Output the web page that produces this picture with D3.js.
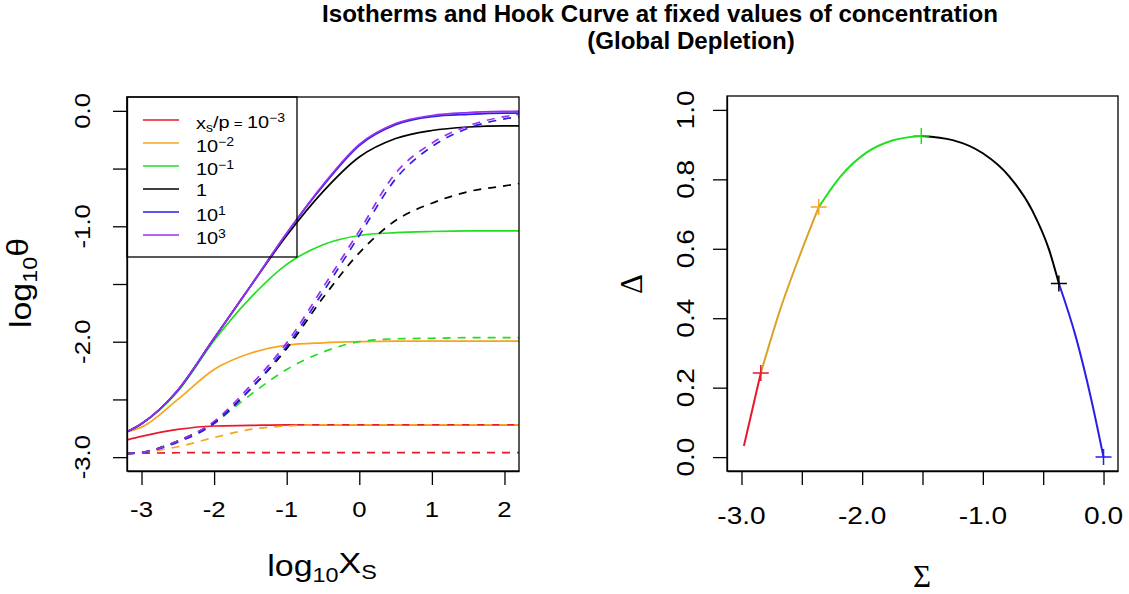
<!DOCTYPE html>
<html>
<head>
<meta charset="utf-8">
<script src="https://cdn.jsdelivr.net/npm/d3@7"></script>
<style>
  body { margin: 0; background: #fff; }
  svg { display: block; }
  text { font-family: "Liberation Sans", Arial, sans-serif; fill: #000; }
</style>
</head>
<body>
<svg width="1129" height="594"></svg>
<script>
// ---- data ----
var logX = [-3.2, -3, -2.5, -2, -1.5, -1, -0.5, 0, 0.5, 1, 1.5, 2, 2.2];

var solidRed    = [-2.85, -2.82, -2.76, -2.73, -2.725, -2.72, -2.72, -2.72, -2.72, -2.72, -2.72, -2.72, -2.72];
var solidOrange = [-2.78, -2.74, -2.50, -2.24, -2.10, -2.03, -2.01, -2.0, -1.995, -1.995, -1.995, -1.995, -1.995];
var solidGreen  = [-2.78, -2.71, -2.43, -1.99, -1.62, -1.33, -1.16, -1.08, -1.055, -1.045, -1.04, -1.04, -1.04];
var solidBlack  = [-2.78, -2.71, -2.42, -1.97, -1.52, -1.08, -0.70, -0.40, -0.24, -0.17, -0.14, -0.13, -0.13];
var solidBlue   = [-2.78, -2.71, -2.42, -1.97, -1.52, -1.06, -0.65, -0.30, -0.12, -0.05, -0.03, -0.02, -0.02];
var solidPurple = [-2.78, -2.71, -2.42, -1.97, -1.52, -1.06, -0.64, -0.29, -0.11, -0.04, -0.015, -0.005, -0.003];

var dashRed    = [-2.965, -2.965, -2.962, -2.96, -2.96, -2.96, -2.96, -2.96, -2.96, -2.96, -2.96, -2.96, -2.96];
var dashOrange = [-2.97, -2.96, -2.91, -2.83, -2.76, -2.73, -2.72, -2.72, -2.72, -2.72, -2.72, -2.72, -2.72];
var dashGreen  = [-2.97, -2.96, -2.86, -2.70, -2.46, -2.24, -2.09, -2.0, -1.975, -1.97, -1.965, -1.965, -1.965];
var dashBlack  = [-2.97, -2.96, -2.86, -2.70, -2.41, -2.06, -1.62, -1.23, -0.95, -0.80, -0.70, -0.65, -0.63];
var dashBlue   = [-2.97, -2.96, -2.87, -2.71, -2.41, -2.04, -1.57, -1.08, -0.59, -0.31, -0.15, -0.07, -0.05];
var dashPurple = [-2.97, -2.96, -2.86, -2.69, -2.38, -2.01, -1.53, -1.04, -0.54, -0.28, -0.13, -0.05, -0.03];

var concExp   = ["-3", "-2", "-1", "", "1", "3"];
var concColor = ["#e8192c", "#f7a41e", "#1fe01f", "#000000", "#2a1fe6", "#9b2ff0"];
var solidSeries = [solidRed, solidOrange, solidGreen, solidBlack, solidBlue, solidPurple];
var dashSeries  = [dashRed, dashOrange, dashGreen, dashBlack, dashBlue, dashPurple];

var leftXTicks = [-3, -2, -1, 0, 1, 2];
var leftYTicks = [-3, -2.5, -2, -1.5, -1, -0.5, 0];
var leftYLabels = [-3, -2, -1, 0];

// hook curve
var hookSigma = [-2.98, -2.84, -2.68, -2.51, -2.36, -2.18, -1.965, -1.75, -1.51, -1.25, -1.0, -0.78, -0.59, -0.45, -0.37, -0.23, -0.10, 0.0];
var hookDelta = [0.032, 0.242, 0.424, 0.587, 0.72, 0.808, 0.877, 0.912, 0.925, 0.913, 0.875, 0.808, 0.71, 0.596, 0.50, 0.347, 0.164, 0.0];
var hookBreaks = [0, 1, 4, 8, 14, 17];
var hookColor  = ["#e8192c", "#d9a22a", "#1fe01f", "#000000", "#2a1fe6"];
var crossColor = ["#e8192c", "#f7a41e", "#1fe01f", "#000000", "#2a1fe6"];

var rightXTicks = [-3, -2.5, -2, -1.5, -1, -0.5, 0];
var rightXLabels = [-3, -2, -1, 0];
var rightYTicks = [0, 0.2, 0.4, 0.6, 0.8, 1.0];

// ---- drawing ----
var svg = d3.select("svg");
var SX = 1.17;   // glyphs in the reference are a bit wider than Arial

function addText(parent, x, y, str, size, rotate, sx) {
  var t = parent.append("text")
      .attr("transform", "translate(" + x + "," + y + ")" + (rotate ? " rotate(-90)" : "") +
                         " scale(" + (sx == null ? SX : sx) + ",1)")
      .attr("text-anchor", "middle")
      .style("font-size", size + "px");
  if (str != null) t.text(str);
  return t;
}

// title
var title1 = svg.append("text")
    .attr("x", 322).attr("y", 22)
    .style("font-size", "23px").style("font-weight", "bold")
    .text("Isotherms and Hook Curve at fixed values of concentration");
var ratio = 676 / title1.node().getComputedTextLength();
title1.attr("textLength", 676).attr("lengthAdjust", "spacingAndGlyphs");
svg.append("text")
    .attr("transform", "translate(691,49) scale(" + ratio + ",1)")
    .attr("text-anchor", "middle")
    .style("font-size", "23px").style("font-weight", "bold")
    .text("(Global Depletion)");

// ===== left panel =====
var lx = d3.scaleLinear().domain([-3.2, 2.2]).range([127, 519]);
var ly = d3.scaleLinear().domain([-3.12, 0.12]).range([471, 97]);

svg.append("clipPath").attr("id", "clipL")
   .append("rect").attr("x", 127).attr("y", 97).attr("width", 392).attr("height", 374);

var left = svg.append("g");
var lineL = d3.line()
    .x(function(d, i) { return lx(logX[i]); })
    .y(function(d) { return ly(d); })
    .curve(d3.curveMonotoneX);

var plotL = left.append("g").attr("clip-path", "url(#clipL)");
solidSeries.forEach(function(s, k) {
  plotL.append("path").attr("d", lineL(s))
       .attr("fill", "none").attr("stroke", concColor[k]).attr("stroke-width", 1.7);
  plotL.append("path").attr("d", lineL(dashSeries[k]))
       .attr("fill", "none").attr("stroke", concColor[k]).attr("stroke-width", 1.7)
       .attr("stroke-dasharray", "8,7");
});

left.append("rect").attr("x", 127).attr("y", 97).attr("width", 392).attr("height", 374)
    .attr("fill", "none").attr("stroke", "#000").attr("stroke-width", 1.3);

left.append("g").attr("transform", "translate(0,471)")
    .call(d3.axisBottom(lx).tickValues(leftXTicks).tickSize(14).tickSizeOuter(0).tickFormat(""));
left.append("g").attr("transform", "translate(127,0)")
    .call(d3.axisLeft(ly).tickValues(leftYTicks).tickSize(14).tickSizeOuter(0).tickFormat(""));
left.selectAll(".tick line, .domain").attr("stroke-width", 1.3);

leftXTicks.forEach(function(v) { addText(left, lx(v), 517, String(v), 22); });
leftYLabels.forEach(function(v) { addText(left, 90, ly(v), v.toFixed(1), 22, true); });

var xt = addText(left, 322, 576, null, 29);
xt.append("tspan").text("log");
xt.append("tspan").attr("dy", "0.3em").style("font-size", "20px").text("10");
xt.append("tspan").attr("dy", "-0.3em").text("X");
xt.append("tspan").attr("dy", "0.3em").style("font-size", "20px").text("S");

var yt = addText(left, 31, 283, null, 29, true);
yt.append("tspan").text("log");
yt.append("tspan").attr("dy", "0.3em").style("font-size", "20px").text("10");
yt.append("tspan").attr("dy", "-0.3em").text("θ");

// legend
var leg = left.append("g");
leg.append("rect").attr("x", 127).attr("y", 97).attr("width", 170).attr("height", 160)
   .attr("fill", "none").attr("stroke", "#000").attr("stroke-width", 1.3);
concExp.forEach(function(e, i) {
  var yy = 120 + i * 23;
  leg.append("line").attr("x1", 143).attr("x2", 179).attr("y1", yy).attr("y2", yy)
     .attr("stroke", concColor[i]).attr("stroke-width", 1.7);
  var t = leg.append("text")
      .attr("transform", "translate(196," + (yy + (e === "" ? 7 : 9)) + ") scale(" + SX + ",1)")
      .style("font-size", "17px");
  if (i === 0) {
    t.append("tspan").text("x");
    t.append("tspan").attr("dy", "0.25em").style("font-size", "12px").text("s");
    t.append("tspan").attr("dy", "-0.25em").text("/p");
    t.append("tspan").style("font-size", "13px").text(" = ");
  }
  if (e === "") {
    t.append("tspan").text("1");
  } else {
    t.append("tspan").text("10");
    t.append("tspan").attr("dy", "-0.5em").style("font-size", "12px").text(e.replace("-", "\u2212"));
  }
});

// ===== right panel =====
var rx = d3.scaleLinear().domain([-3.12, 0.12]).range([727, 1118]);
var ry = d3.scaleLinear().domain([-0.04, 1.04]).range([471, 96]);
var right = svg.append("g");

var lineR = d3.line()
    .x(function(i) { return rx(hookSigma[i]); })
    .y(function(i) { return ry(hookDelta[i]); })
    .curve(d3.curveMonotoneX);

for (var k = 0; k < hookBreaks.length - 1; k++) {
  right.append("path").attr("d", lineR(d3.range(hookBreaks[k], hookBreaks[k + 1] + 1)))
       .attr("fill", "none").attr("stroke", hookColor[k]).attr("stroke-width", 2);
}
hookBreaks.slice(1).forEach(function(idx, k) {
  var cx = rx(hookSigma[idx]), cy = ry(hookDelta[idx]);
  right.append("path")
       .attr("d", "M" + (cx - 8) + "," + cy + "H" + (cx + 8) + "M" + cx + "," + (cy - 8) + "V" + (cy + 8))
       .attr("stroke", crossColor[k]).attr("stroke-width", 1.5).attr("fill", "none");
});

right.append("rect").attr("x", 727).attr("y", 96).attr("width", 391).attr("height", 375)
     .attr("fill", "none").attr("stroke", "#000").attr("stroke-width", 1.3);
right.append("g").attr("transform", "translate(0,471)")
     .call(d3.axisBottom(rx).tickValues(rightXTicks).tickSize(14).tickSizeOuter(0).tickFormat(""));
right.append("g").attr("transform", "translate(727,0)")
     .call(d3.axisLeft(ry).tickValues(rightYTicks).tickSize(14).tickSizeOuter(0).tickFormat(""));
right.selectAll(".tick line, .domain").attr("stroke-width", 1.3);

rightXLabels.forEach(function(v) { addText(right, rx(v), 524, v.toFixed(1), 24); });
rightYTicks.forEach(function(v) { addText(right, 694, ry(v), v.toFixed(1), 24, true); });

addText(right, 922, 587, "Σ", 31, false, 1).style("font-family", "'Liberation Serif', serif");
addText(right, 642, 284, "Δ", 31, true, 1).style("font-family", "'Liberation Serif', serif");
</script>
</body>
</html>
